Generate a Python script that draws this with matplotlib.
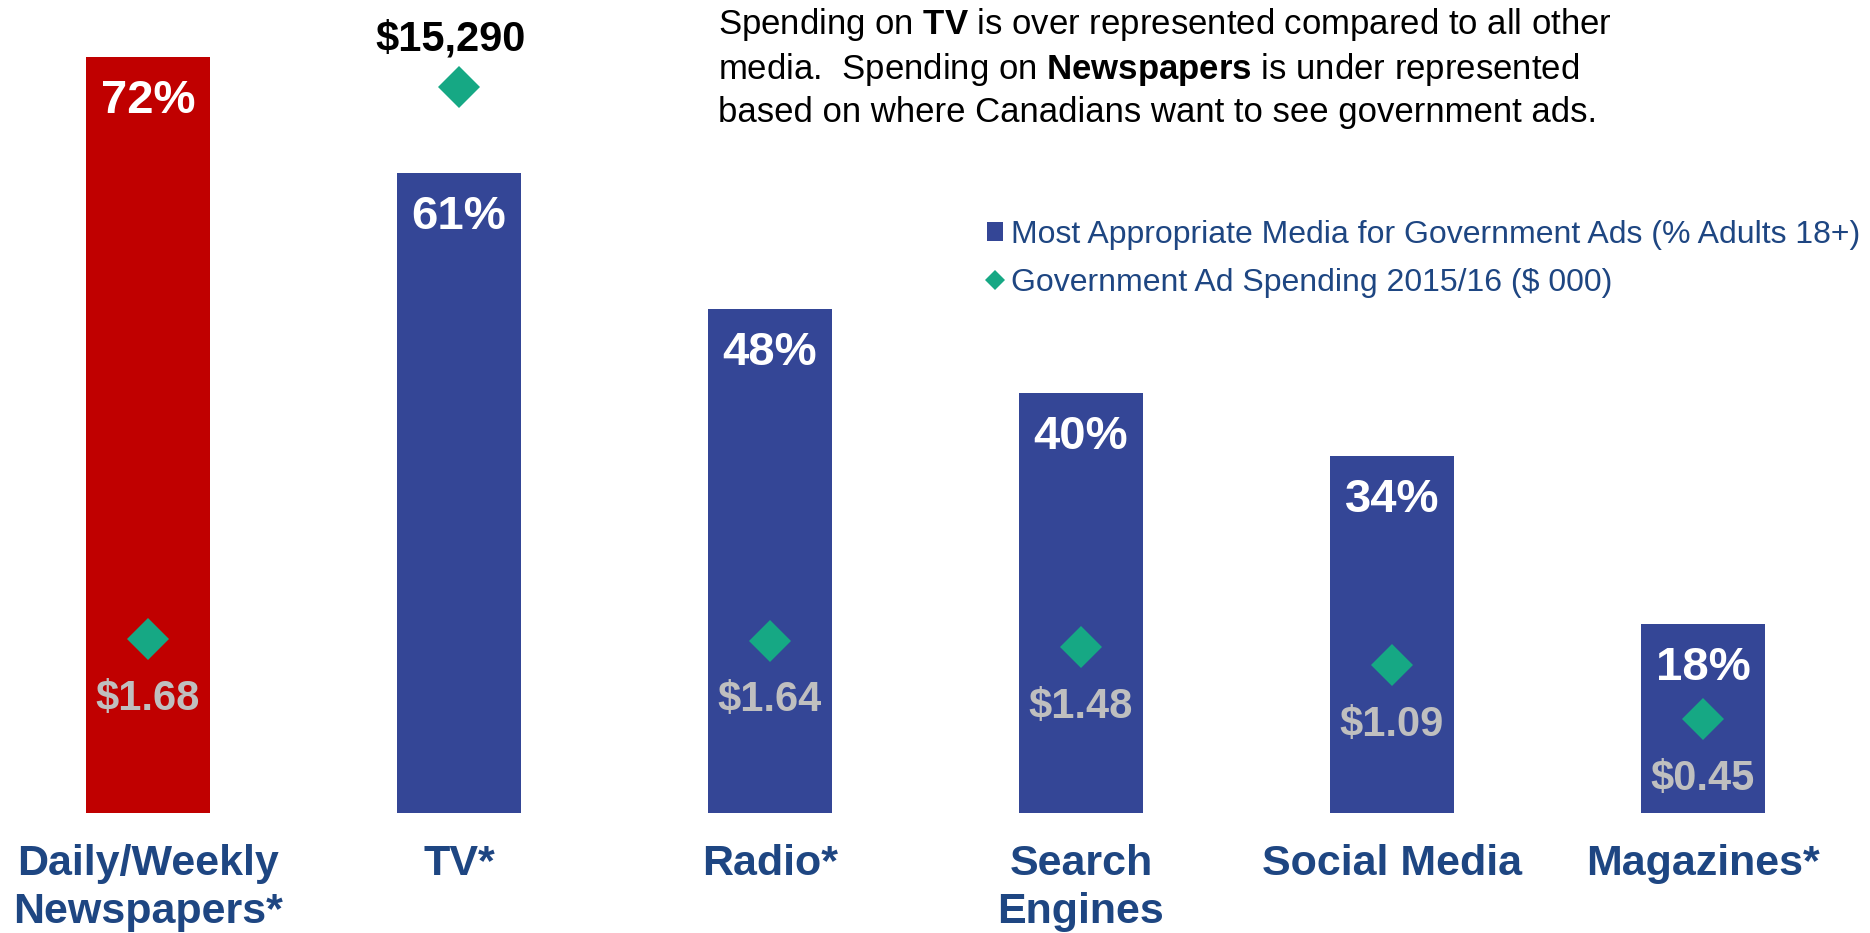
import matplotlib
matplotlib.use("Agg")
import numpy as np
from matplotlib import pyplot as plt
from matplotlib.patches import Patch
from matplotlib.lines import Line2D

plt.rcParams['font.family'] = ['Liberation Sans', 'DejaVu Sans']
plt.rcParams['mathtext.fontset'] = 'custom'
plt.rcParams['mathtext.rm'] = 'Liberation Sans'
plt.rcParams['mathtext.bf'] = 'Liberation Sans:bold'

# data
categories = ['Daily/Weekly\nNewspapers*', 'TV*', 'Radio*', 'Search\nEngines',
              'Social Media', 'Magazines*']
appropriate_pct = [72, 61, 48, 40, 34, 18]
spending = [1.68, 15290, 1.64, 1.48, 1.09, 0.45]
spending_labels = ['$1.68', '$15,290', '$1.64', '$1.48', '$1.09', '$0.45']
bar_colors = ['#C00000', '#344696', '#344696', '#344696', '#344696', '#344696']

BLUE = '#344696'
GREEN = '#16A884'
GREY = '#BFBFBF'
LABEL_BLUE = '#1E4682'

W, H = 1870, 933
STEP = 311  # px between bar centres
fig = plt.figure(figsize=(W / 100, H / 100), dpi=100)
ax = fig.add_axes([0, 120 / H, 1, 813 / H])

x = np.arange(len(categories))
ax.bar(x, appropriate_pct, width=0.4, color=bar_colors, zorder=2)
ax.set_xlim(-148 / STEP, (W - 148) / STEP)
ax.set_ylim(0, 813 / 10.5)

for xi, v in zip(x, appropriate_pct):
    ax.annotate(f'{v}%', (xi, v), xytext=(0, -32), textcoords='offset points',
                ha='center', va='center', color='white', fontsize=34,
                fontweight='bold')

ax.set_xticks(x)
ax.set_xticklabels(categories, fontsize=31, fontweight='bold', color=LABEL_BLUE,
                   linespacing=1.26)
for s in ax.spines.values():
    s.set_visible(False)

# spending on log scale
ax2 = ax.twinx()
ax2.set_yscale('log')
ax2.set_ylim(10 ** -1.020, 10 ** 4.808)
ax2.plot(x, spending, linestyle='none', marker='D', markersize=21,
         color=GREEN, markeredgewidth=0, zorder=3)
for xi, v, lab in zip(x, spending, spending_labels):
    if v > 1000:
        ax2.annotate(lab, (xi, v), xytext=(-6, 34), textcoords='offset points',
                     ha='center', va='center', color='black', fontsize=30,
                     fontweight='bold')
    else:
        ax2.annotate(lab, (xi, v), xytext=(0, -43), textcoords='offset points',
                     ha='center', va='center', color=GREY, fontsize=30,
                     fontweight='bold')
for s in ax2.spines.values():
    s.set_visible(False)

ax.tick_params(axis='x', length=0, pad=22)
ax.tick_params(axis='y', which='both', left=False, right=False,
               labelleft=False, labelright=False)
ax2.tick_params(axis='y', which='both', left=False, right=False,
                labelleft=False, labelright=False)

# commentary
fig.text(718 / W, 1 - 6 / H,
         r'Spending on $\mathbf{TV}$ is over represented compared to all other' '\n'
         r'media.  Spending on $\mathbf{Newspapers}$ is under represented' '\n'
         'based on where Canadians want to see government ads.',
         ha='left', va='top', fontsize=25, color='black', linespacing=1.29)

handles = [Patch(facecolor=BLUE, edgecolor='none'),
           Line2D([], [], linestyle='none', marker='D', markersize=10,
                  color=GREEN, markeredgewidth=0)]
labels = ['Most Appropriate Media for Government Ads (% Adults 18+)',
          'Government Ad Spending 2015/16 ($ 000)']
fig.legend(handles, labels, loc='upper left', bbox_to_anchor=(987 / W, 1 - 220 / H),
           frameon=False, fontsize=23, labelcolor=LABEL_BLUE, handlelength=0.5,
           handleheight=0.53, handletextpad=0.25, labelspacing=0.55,
           borderpad=0, borderaxespad=0)

fig.savefig('out.png', dpi=100)
